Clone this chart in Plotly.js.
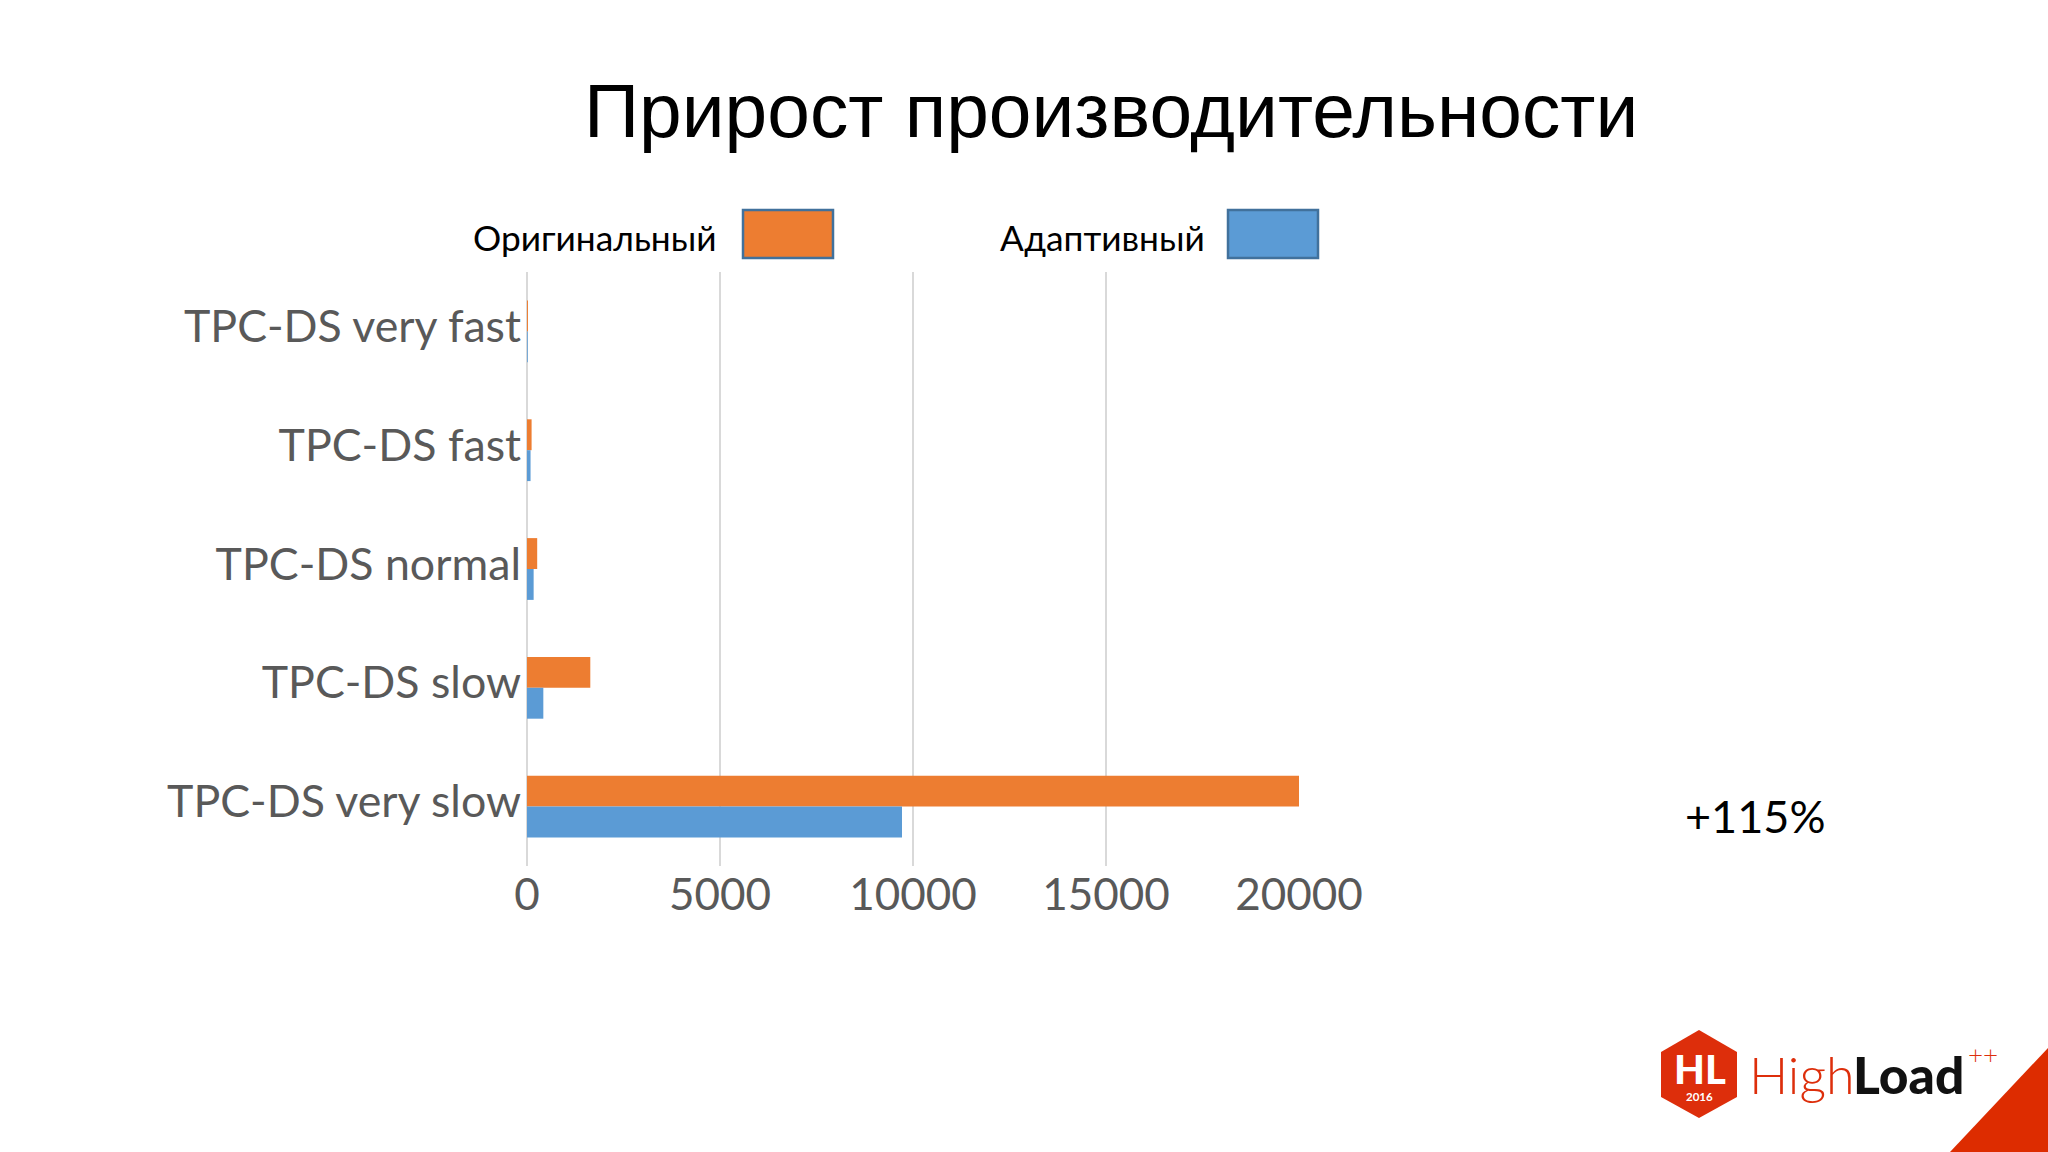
<!DOCTYPE html>
<html><head><meta charset="utf-8">
<script src="https://cdn.plot.ly/plotly-3.0.1.min.js"></script>
<style>html,body{margin:0;padding:0;background:#fff}#c{width:2048px;height:1152px}</style>
</head><body><div id="c"></div>
<script>
const categories = ["TPC-DS very fast","TPC-DS fast","TPC-DS normal","TPC-DS slow","TPC-DS very slow"];
const original = [25,119,264,1640,20000];
const adaptive = [20,92,172,423,9715];
const xTicks = [0,5000,10000,15000,20000];
const titleText = "Прирост производительности";
const legendOriginal = "Оригинальный";
const legendAdaptive = "Адаптивный";
const noteText = "+115%";

const L=527,R=1299,T=272,B=866;
const px=x=>(x-L)/(R-L), py=y=>(B-y)/(B-T);
const rect=(x0,y0,x1,y1,fill,line,lw)=>({type:'rect',xref:'paper',yref:'paper',x0:px(x0),x1:px(x1),y0:py(y0),y1:py(y1),fillcolor:fill,line:{color:line,width:lw||0}});
const poly=(pts,fill)=>({type:'path',xref:'paper',yref:'paper',fillcolor:fill,line:{width:0},
  path:'M'+pts.map(p=>px(p[0])+','+py(p[1])).join(' L')+' Z'});
const txt=(text,x,y,size,color,family,xa,weight)=>({text,xref:'paper',yref:'paper',x:px(x),y:py(y),xanchor:xa||'center',yanchor:'middle',showarrow:false,
  font:{size,color,family,weight:weight||400}});
const lato='Lato, Carlito, sans-serif', red='#DD2E0B';

const data=[
 {type:'bar',orientation:'h',name:legendOriginal,y:categories,x:original,marker:{color:'#ED7D31'}},
 {type:'bar',orientation:'h',name:legendAdaptive,y:categories,x:adaptive,marker:{color:'#5B9BD5'}}
];
const layout={
 width:2048,height:1152,paper_bgcolor:'#fff',plot_bgcolor:'#fff',showlegend:false,
 margin:{l:L,r:2048-R,t:T,b:1152-B,pad:0},
 barmode:'group',bargap:0.48,bargroupgap:0,
 xaxis:{range:[0,20000],tickvals:xTicks,ticktext:xTicks.map(String),showgrid:true,gridcolor:'#D9D9D9',gridwidth:1.5,
   zeroline:true,zerolinecolor:'#D9D9D9',zerolinewidth:1.5,showline:false,ticks:'',
   tickfont:{size:44,color:'#595959',family:lato},ticklabelstandoff:-1},
 yaxis:{type:'category',autorange:'reversed',categoryorder:'array',categoryarray:categories,showgrid:false,zeroline:false,showline:false,ticks:'',
   tickfont:{size:44.7,color:'#595959',family:lato},ticklabelstandoff:5,ticklabelshift:5},
 shapes:[
  rect(743,210,833,258,'#ED7D31','#41719C',2.5),
  rect(1228,210,1318,258,'#5B9BD5','#41719C',2.5),
  poly([[1699,1030],[1737,1052],[1737,1097],[1699,1118],[1661,1097],[1661,1052]],red),
  poly([[2048,1048],[2048,1152],[1950,1152]],'#DD2C00')
 ],
 annotations:[
  txt(titleText,1111,110,76.7,'#000','"Liberation Sans", Arial, sans-serif'),
  txt(legendOriginal,595,237,35.3,'#000',lato),
  txt(legendAdaptive,1102,237,35.3,'#000',lato),
  txt(noteText,1755,816,45,'#000',lato),
  txt('HL',1700,1069,40,'#fff',lato,'center',900),
  txt('2016',1699,1096,11.5,'#fff',lato,'center',700),
  txt('High',1747,1074,52,red,lato,'left',300),
  txt('Load',1851,1074,51.5,'#111',lato,'left',900),
  txt('++',1983,1054,26,red,lato,'center',300)
 ]
};
Plotly.newPlot('c',data,layout,{displayModeBar:false,staticPlot:true});
</script></body></html>
